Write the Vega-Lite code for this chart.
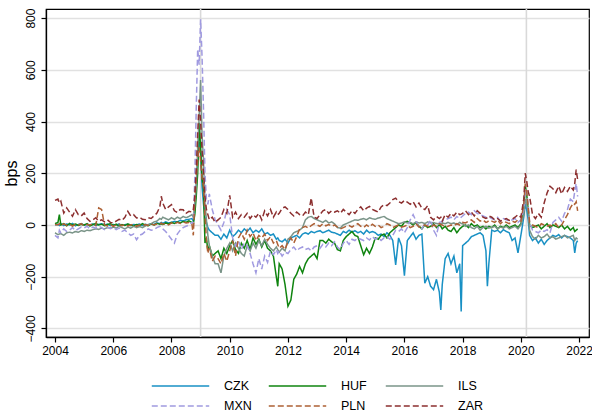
{
  "$schema": "https://vega.github.io/schema/vega-lite/v6.json",
  "width": 543,
  "height": 328,
  "autosize": "none",
  "padding": {"left": 46, "top": 9, "right": 3, "bottom": 79},
  "background": "white",
  "config": {
    "font": "Liberation Sans",
    "view": {"stroke": "black", "strokeWidth": 1.2},
    "axis": {"domainColor": "black", "domainWidth": 1.3, "tickColor": "black", "tickWidth": 1.2, "tickSize": 5, "labelColor": "black", "titleColor": "black", "labelFontSize": 12, "titleFontWeight": "normal"}
  },
  "datasets": {
    "events": [{"t": 2009.0}, {"t": 2020.19}],
    "styles": [
      {"cur": "CZK", "style": "CZK"}, {"cur": "HUF", "style": "HUF"}, {"cur": "ILS", "style": "ILS"},
      {"cur": "MXN", "style": "MXN"}, {"cur": "PLN", "style": "PLN"}, {"cur": "ZAR", "style": "ZAR"}
    ],
    "spreads": [
      {"t":2004.0,"CZK":0,"HUF":5,"ILS":-30,"MXN":-40,"PLN":2,"ZAR":95},
      {"t":2004.1,"CZK":3,"HUF":10,"ILS":-37,"MXN":-50,"PLN":0,"ZAR":100},
      {"t":2004.15,"CZK":-2,"HUF":40,"ILS":-35,"MXN":-20,"PLN":5,"ZAR":85},
      {"t":2004.2,"CZK":5,"HUF":0,"ILS":-33,"MXN":-30,"PLN":-3,"ZAR":92},
      {"t":2004.3,"CZK":-2,"HUF":5,"ILS":-40,"MXN":-15,"PLN":4,"ZAR":46},
      {"t":2004.4,"CZK":4,"HUF":-3,"ILS":-30,"MXN":-25,"PLN":-2,"ZAR":66},
      {"t":2004.5,"CZK":0,"HUF":6,"ILS":-28,"MXN":-20,"PLN":3,"ZAR":50},
      {"t":2004.6,"CZK":6,"HUF":0,"ILS":-31,"MXN":-10,"PLN":-4,"ZAR":34},
      {"t":2004.7,"CZK":-3,"HUF":4,"ILS":-25,"MXN":-22,"PLN":2,"ZAR":59},
      {"t":2004.8,"CZK":2,"HUF":-2,"ILS":-28,"MXN":-15,"PLN":0,"ZAR":40},
      {"t":2004.9,"CZK":5,"HUF":3,"ILS":-22,"MXN":-8,"PLN":5,"ZAR":35},
      {"t":2005.0,"CZK":-1,"HUF":0,"ILS":-25,"MXN":-12,"PLN":-3,"ZAR":46},
      {"t":2005.1,"CZK":3,"HUF":5,"ILS":-20,"MXN":-5,"PLN":2,"ZAR":25},
      {"t":2005.2,"CZK":0,"HUF":-4,"ILS":-22,"MXN":-15,"PLN":0,"ZAR":14},
      {"t":2005.3,"CZK":4,"HUF":2,"ILS":-18,"MXN":-8,"PLN":4,"ZAR":20},
      {"t":2005.4,"CZK":-2,"HUF":6,"ILS":-15,"MXN":-12,"PLN":-2,"ZAR":28},
      {"t":2005.5,"CZK":2,"HUF":0,"ILS":-17,"MXN":-5,"PLN":66,"ZAR":15},
      {"t":2005.6,"CZK":5,"HUF":3,"ILS":-12,"MXN":-10,"PLN":60,"ZAR":20},
      {"t":2005.7,"CZK":0,"HUF":-3,"ILS":-15,"MXN":-18,"PLN":0,"ZAR":12},
      {"t":2005.8,"CZK":3,"HUF":2,"ILS":-10,"MXN":-8,"PLN":-4,"ZAR":20},
      {"t":2005.9,"CZK":-3,"HUF":5,"ILS":-12,"MXN":-14,"PLN":2,"ZAR":10},
      {"t":2006.0,"CZK":2,"HUF":-2,"ILS":-8,"MXN":-10,"PLN":-5,"ZAR":8},
      {"t":2006.1,"CZK":0,"HUF":3,"ILS":-12,"MXN":-18,"PLN":0,"ZAR":15},
      {"t":2006.2,"CZK":4,"HUF":-5,"ILS":-5,"MXN":-12,"PLN":3,"ZAR":22},
      {"t":2006.3,"CZK":-2,"HUF":2,"ILS":-10,"MXN":-25,"PLN":-3,"ZAR":18},
      {"t":2006.4,"CZK":1,"HUF":-2,"ILS":-15,"MXN":-20,"PLN":2,"ZAR":30},
      {"t":2006.5,"CZK":3,"HUF":4,"ILS":-8,"MXN":-30,"PLN":-4,"ZAR":53},
      {"t":2006.6,"CZK":-3,"HUF":0,"ILS":-12,"MXN":-40,"PLN":0,"ZAR":35},
      {"t":2006.7,"CZK":2,"HUF":-4,"ILS":-5,"MXN":-35,"PLN":3,"ZAR":40},
      {"t":2006.8,"CZK":0,"HUF":2,"ILS":-10,"MXN":-57,"PLN":-5,"ZAR":27},
      {"t":2006.9,"CZK":4,"HUF":-3,"ILS":-6,"MXN":-40,"PLN":0,"ZAR":30},
      {"t":2007.0,"CZK":-2,"HUF":5,"ILS":-10,"MXN":-35,"PLN":-3,"ZAR":22},
      {"t":2007.1,"CZK":3,"HUF":0,"ILS":-4,"MXN":-25,"PLN":2,"ZAR":20},
      {"t":2007.2,"CZK":0,"HUF":-3,"ILS":2,"MXN":-15,"PLN":-2,"ZAR":28},
      {"t":2007.3,"CZK":5,"HUF":4,"ILS":5,"MXN":-20,"PLN":4,"ZAR":25},
      {"t":2007.4,"CZK":2,"HUF":0,"ILS":12,"MXN":-18,"PLN":0,"ZAR":35},
      {"t":2007.5,"CZK":8,"HUF":6,"ILS":15,"MXN":-10,"PLN":5,"ZAR":46},
      {"t":2007.6,"CZK":5,"HUF":3,"ILS":25,"MXN":-5,"PLN":2,"ZAR":70},
      {"t":2007.65,"CZK":10,"HUF":5,"ILS":22,"MXN":-12,"PLN":8,"ZAR":111},
      {"t":2007.7,"CZK":6,"HUF":2,"ILS":30,"MXN":-15,"PLN":3,"ZAR":85},
      {"t":2007.8,"CZK":12,"HUF":8,"ILS":25,"MXN":-25,"PLN":6,"ZAR":60},
      {"t":2007.9,"CZK":8,"HUF":4,"ILS":20,"MXN":-40,"PLN":0,"ZAR":70},
      {"t":2008.0,"CZK":10,"HUF":10,"ILS":28,"MXN":-55,"PLN":8,"ZAR":79},
      {"t":2008.1,"CZK":14,"HUF":6,"ILS":22,"MXN":-70,"PLN":4,"ZAR":55},
      {"t":2008.2,"CZK":12,"HUF":12,"ILS":30,"MXN":-35,"PLN":10,"ZAR":48},
      {"t":2008.3,"CZK":18,"HUF":8,"ILS":25,"MXN":-20,"PLN":6,"ZAR":60},
      {"t":2008.4,"CZK":15,"HUF":14,"ILS":33,"MXN":-10,"PLN":12,"ZAR":59},
      {"t":2008.5,"CZK":20,"HUF":10,"ILS":28,"MXN":-5,"PLN":8,"ZAR":45},
      {"t":2008.6,"CZK":22,"HUF":16,"ILS":33,"MXN":0,"PLN":10,"ZAR":53},
      {"t":2008.7,"CZK":25,"HUF":10,"ILS":40,"MXN":10,"PLN":5,"ZAR":50},
      {"t":2008.75,"CZK":15,"HUF":5,"ILS":30,"MXN":5,"PLN":-40,"ZAR":60},
      {"t":2008.8,"CZK":60,"HUF":40,"ILS":80,"MXN":180,"PLN":100,"ZAR":110},
      {"t":2008.85,"CZK":150,"HUF":110,"ILS":150,"MXN":450,"PLN":188,"ZAR":214},
      {"t":2008.9,"CZK":250,"HUF":200,"ILS":300,"MXN":680,"PLN":250,"ZAR":350},
      {"t":2008.95,"CZK":320,"HUF":395,"ILS":420,"MXN":620,"PLN":300,"ZAR":485},
      {"t":2009.0,"CZK":280,"HUF":300,"ILS":560,"MXN":795,"PLN":250,"ZAR":400},
      {"t":2009.05,"CZK":150,"HUF":180,"ILS":350,"MXN":650,"PLN":180,"ZAR":290},
      {"t":2009.1,"CZK":80,"HUF":140,"ILS":250,"MXN":446,"PLN":150,"ZAR":200},
      {"t":2009.15,"CZK":30,"HUF":-70,"ILS":85,"MXN":200,"PLN":33,"ZAR":110},
      {"t":2009.2,"CZK":10,"HUF":-50,"ILS":20,"MXN":100,"PLN":-60,"ZAR":60},
      {"t":2009.25,"CZK":-10,"HUF":-100,"ILS":-40,"MXN":80,"PLN":-110,"ZAR":40},
      {"t":2009.3,"CZK":-20,"HUF":-80,"ILS":-80,"MXN":120,"PLN":-90,"ZAR":20},
      {"t":2009.4,"CZK":-30,"HUF":-120,"ILS":-120,"MXN":60,"PLN":-140,"ZAR":30},
      {"t":2009.5,"CZK":-40,"HUF":-110,"ILS":-150,"MXN":20,"PLN":-120,"ZAR":10},
      {"t":2009.6,"CZK":-40,"HUF":-100,"ILS":-150,"MXN":0,"PLN":-130,"ZAR":20},
      {"t":2009.7,"CZK":-55,"HUF":-130,"ILS":-185,"MXN":-20,"PLN":-150,"ZAR":30},
      {"t":2009.8,"CZK":-35,"HUF":-90,"ILS":-120,"MXN":10,"PLN":-110,"ZAR":60},
      {"t":2009.9,"CZK":-50,"HUF":-110,"ILS":-90,"MXN":60,"PLN":-140,"ZAR":45},
      {"t":2010.0,"CZK":-20,"HUF":-80,"ILS":-70,"MXN":40,"PLN":-100,"ZAR":115},
      {"t":2010.1,"CZK":-45,"HUF":-60,"ILS":-100,"MXN":-50,"PLN":-60,"ZAR":30},
      {"t":2010.2,"CZK":-35,"HUF":-95,"ILS":-70,"MXN":-80,"PLN":-120,"ZAR":50},
      {"t":2010.3,"CZK":-20,"HUF":-110,"ILS":-90,"MXN":-60,"PLN":-50,"ZAR":25},
      {"t":2010.4,"CZK":-30,"HUF":-70,"ILS":-110,"MXN":-95,"PLN":-30,"ZAR":40},
      {"t":2010.5,"CZK":-15,"HUF":-90,"ILS":-120,"MXN":-70,"PLN":-55,"ZAR":30},
      {"t":2010.6,"CZK":-25,"HUF":-60,"ILS":-80,"MXN":-80,"PLN":-20,"ZAR":45},
      {"t":2010.7,"CZK":-12,"HUF":-95,"ILS":-100,"MXN":-110,"PLN":-45,"ZAR":25},
      {"t":2010.8,"CZK":-30,"HUF":-50,"ILS":-70,"MXN":-150,"PLN":-30,"ZAR":40},
      {"t":2010.9,"CZK":-20,"HUF":-75,"ILS":-90,"MXN":-185,"PLN":-60,"ZAR":30},
      {"t":2011.0,"CZK":-28,"HUF":-55,"ILS":-60,"MXN":-130,"PLN":-40,"ZAR":45},
      {"t":2011.1,"CZK":-15,"HUF":-85,"ILS":-80,"MXN":-170,"PLN":-50,"ZAR":20},
      {"t":2011.2,"CZK":-35,"HUF":-60,"ILS":-55,"MXN":-120,"PLN":-35,"ZAR":55},
      {"t":2011.3,"CZK":-30,"HUF":-90,"ILS":-75,"MXN":-145,"PLN":-60,"ZAR":35},
      {"t":2011.4,"CZK":-40,"HUF":-100,"ILS":-90,"MXN":-100,"PLN":-45,"ZAR":60},
      {"t":2011.5,"CZK":-35,"HUF":-120,"ILS":-100,"MXN":-115,"PLN":-70,"ZAR":30},
      {"t":2011.6,"CZK":-55,"HUF":-200,"ILS":-85,"MXN":-95,"PLN":-60,"ZAR":50},
      {"t":2011.65,"CZK":-50,"HUF":-237,"ILS":-95,"MXN":-110,"PLN":-75,"ZAR":40},
      {"t":2011.7,"CZK":-60,"HUF":-150,"ILS":-105,"MXN":-100,"PLN":-90,"ZAR":45},
      {"t":2011.8,"CZK":-65,"HUF":-170,"ILS":-90,"MXN":-120,"PLN":-80,"ZAR":65},
      {"t":2011.9,"CZK":-55,"HUF":-230,"ILS":-100,"MXN":-105,"PLN":-95,"ZAR":70},
      {"t":2012.0,"CZK":-70,"HUF":-314,"ILS":-55,"MXN":-110,"PLN":-65,"ZAR":60},
      {"t":2012.1,"CZK":-50,"HUF":-290,"ILS":-45,"MXN":-95,"PLN":-50,"ZAR":45},
      {"t":2012.2,"CZK":-45,"HUF":-210,"ILS":-30,"MXN":-85,"PLN":-70,"ZAR":35},
      {"t":2012.3,"CZK":-40,"HUF":-190,"ILS":-25,"MXN":-100,"PLN":-45,"ZAR":50},
      {"t":2012.4,"CZK":-50,"HUF":-160,"ILS":-20,"MXN":-90,"PLN":-15,"ZAR":40},
      {"t":2012.5,"CZK":-35,"HUF":-185,"ILS":-10,"MXN":-85,"PLN":-10,"ZAR":35},
      {"t":2012.6,"CZK":-30,"HUF":-150,"ILS":20,"MXN":-95,"PLN":-5,"ZAR":50},
      {"t":2012.7,"CZK":-35,"HUF":-130,"ILS":30,"MXN":-90,"PLN":-12,"ZAR":40},
      {"t":2012.8,"CZK":-25,"HUF":-120,"ILS":33,"MXN":-100,"PLN":-2,"ZAR":104},
      {"t":2012.9,"CZK":-30,"HUF":-110,"ILS":25,"MXN":-85,"PLN":5,"ZAR":30},
      {"t":2013.0,"CZK":-25,"HUF":-130,"ILS":20,"MXN":-80,"PLN":0,"ZAR":25},
      {"t":2013.1,"CZK":-22,"HUF":-60,"ILS":15,"MXN":-90,"PLN":-5,"ZAR":40},
      {"t":2013.2,"CZK":-30,"HUF":-60,"ILS":10,"MXN":-75,"PLN":5,"ZAR":55},
      {"t":2013.3,"CZK":-25,"HUF":-70,"ILS":18,"MXN":-85,"PLN":-3,"ZAR":60},
      {"t":2013.4,"CZK":-20,"HUF":-55,"ILS":8,"MXN":-70,"PLN":2,"ZAR":45},
      {"t":2013.5,"CZK":-28,"HUF":-65,"ILS":12,"MXN":-80,"PLN":-5,"ZAR":55},
      {"t":2013.6,"CZK":-30,"HUF":-70,"ILS":5,"MXN":-65,"PLN":0,"ZAR":50},
      {"t":2013.7,"CZK":-35,"HUF":-95,"ILS":-10,"MXN":-85,"PLN":-8,"ZAR":55},
      {"t":2013.8,"CZK":-40,"HUF":-100,"ILS":-12,"MXN":-95,"PLN":-15,"ZAR":45},
      {"t":2013.9,"CZK":-25,"HUF":-60,"ILS":0,"MXN":-70,"PLN":-10,"ZAR":60},
      {"t":2014.0,"CZK":-30,"HUF":-45,"ILS":5,"MXN":-60,"PLN":-5,"ZAR":50},
      {"t":2014.1,"CZK":-20,"HUF":-35,"ILS":10,"MXN":-75,"PLN":-2,"ZAR":40},
      {"t":2014.2,"CZK":-28,"HUF":-25,"ILS":15,"MXN":-55,"PLN":-8,"ZAR":55},
      {"t":2014.3,"CZK":-22,"HUF":-40,"ILS":20,"MXN":-60,"PLN":0,"ZAR":45},
      {"t":2014.4,"CZK":-30,"HUF":-45,"ILS":18,"MXN":-50,"PLN":5,"ZAR":60},
      {"t":2014.5,"CZK":-25,"HUF":-80,"ILS":22,"MXN":-55,"PLN":-5,"ZAR":70},
      {"t":2014.6,"CZK":-35,"HUF":-115,"ILS":25,"MXN":-60,"PLN":-10,"ZAR":55},
      {"t":2014.7,"CZK":-20,"HUF":-90,"ILS":20,"MXN":-50,"PLN":0,"ZAR":65},
      {"t":2014.8,"CZK":-30,"HUF":-110,"ILS":28,"MXN":-58,"PLN":-8,"ZAR":72},
      {"t":2014.9,"CZK":-25,"HUF":-85,"ILS":24,"MXN":-45,"PLN":3,"ZAR":60},
      {"t":2015.0,"CZK":-30,"HUF":-50,"ILS":22,"MXN":-55,"PLN":-5,"ZAR":55},
      {"t":2015.1,"CZK":-40,"HUF":-55,"ILS":27,"MXN":-48,"PLN":0,"ZAR":50},
      {"t":2015.2,"CZK":-35,"HUF":-40,"ILS":30,"MXN":-60,"PLN":-10,"ZAR":70},
      {"t":2015.3,"CZK":-45,"HUF":-35,"ILS":33,"MXN":-50,"PLN":-5,"ZAR":79},
      {"t":2015.4,"CZK":-30,"HUF":-50,"ILS":25,"MXN":-45,"PLN":5,"ZAR":75},
      {"t":2015.5,"CZK":-40,"HUF":-30,"ILS":20,"MXN":-55,"PLN":0,"ZAR":85},
      {"t":2015.6,"CZK":-60,"HUF":-20,"ILS":15,"MXN":-40,"PLN":-10,"ZAR":98},
      {"t":2015.7,"CZK":-154,"HUF":-10,"ILS":10,"MXN":-20,"PLN":-5,"ZAR":104},
      {"t":2015.8,"CZK":-50,"HUF":0,"ILS":5,"MXN":-25,"PLN":0,"ZAR":90},
      {"t":2015.9,"CZK":-80,"HUF":-5,"ILS":8,"MXN":-15,"PLN":-8,"ZAR":85},
      {"t":2016.0,"CZK":-196,"HUF":10,"ILS":12,"MXN":-30,"PLN":-5,"ZAR":95},
      {"t":2016.1,"CZK":-60,"HUF":14,"ILS":8,"MXN":-10,"PLN":0,"ZAR":88},
      {"t":2016.2,"CZK":-45,"HUF":8,"ILS":10,"MXN":20,"PLN":-10,"ZAR":80},
      {"t":2016.3,"CZK":-30,"HUF":0,"ILS":5,"MXN":40,"PLN":-5,"ZAR":90},
      {"t":2016.4,"CZK":-55,"HUF":10,"ILS":12,"MXN":15,"PLN":5,"ZAR":70},
      {"t":2016.5,"CZK":-40,"HUF":-5,"ILS":8,"MXN":-10,"PLN":-8,"ZAR":85},
      {"t":2016.6,"CZK":-35,"HUF":-15,"ILS":10,"MXN":-15,"PLN":-3,"ZAR":65},
      {"t":2016.7,"CZK":-225,"HUF":0,"ILS":5,"MXN":5,"PLN":0,"ZAR":60},
      {"t":2016.8,"CZK":-200,"HUF":-10,"ILS":12,"MXN":0,"PLN":-5,"ZAR":75},
      {"t":2016.9,"CZK":-237,"HUF":-5,"ILS":8,"MXN":20,"PLN":-10,"ZAR":30},
      {"t":2017.0,"CZK":-250,"HUF":5,"ILS":10,"MXN":-20,"PLN":0,"ZAR":20},
      {"t":2017.1,"CZK":-210,"HUF":-10,"ILS":6,"MXN":-40,"PLN":-5,"ZAR":33},
      {"t":2017.2,"CZK":-260,"HUF":0,"ILS":3,"MXN":10,"PLN":5,"ZAR":25},
      {"t":2017.25,"CZK":-328,"HUF":-5,"ILS":6,"MXN":12,"PLN":2,"ZAR":30},
      {"t":2017.3,"CZK":-230,"HUF":-15,"ILS":8,"MXN":15,"PLN":0,"ZAR":15},
      {"t":2017.4,"CZK":-130,"HUF":-5,"ILS":5,"MXN":20,"PLN":-8,"ZAR":40},
      {"t":2017.5,"CZK":-110,"HUF":-20,"ILS":10,"MXN":25,"PLN":-5,"ZAR":30},
      {"t":2017.6,"CZK":-150,"HUF":-25,"ILS":5,"MXN":30,"PLN":0,"ZAR":45},
      {"t":2017.7,"CZK":-120,"HUF":-10,"ILS":8,"MXN":20,"PLN":-3,"ZAR":35},
      {"t":2017.8,"CZK":-185,"HUF":-30,"ILS":2,"MXN":33,"PLN":5,"ZAR":50},
      {"t":2017.9,"CZK":-150,"HUF":-15,"ILS":10,"MXN":25,"PLN":0,"ZAR":40},
      {"t":2017.95,"CZK":-334,"HUF":-10,"ILS":6,"MXN":30,"PLN":5,"ZAR":42},
      {"t":2018.0,"CZK":-80,"HUF":-5,"ILS":5,"MXN":35,"PLN":10,"ZAR":45},
      {"t":2018.1,"CZK":-70,"HUF":0,"ILS":-5,"MXN":45,"PLN":8,"ZAR":55},
      {"t":2018.2,"CZK":-60,"HUF":-10,"ILS":0,"MXN":50,"PLN":15,"ZAR":40},
      {"t":2018.3,"CZK":-45,"HUF":5,"ILS":-10,"MXN":40,"PLN":20,"ZAR":50},
      {"t":2018.4,"CZK":-40,"HUF":-5,"ILS":-15,"MXN":55,"PLN":10,"ZAR":35},
      {"t":2018.5,"CZK":-35,"HUF":0,"ILS":-5,"MXN":45,"PLN":25,"ZAR":55},
      {"t":2018.6,"CZK":-30,"HUF":-10,"ILS":-20,"MXN":40,"PLN":15,"ZAR":45},
      {"t":2018.7,"CZK":-40,"HUF":-5,"ILS":-10,"MXN":35,"PLN":20,"ZAR":30},
      {"t":2018.8,"CZK":-100,"HUF":-15,"ILS":-5,"MXN":30,"PLN":10,"ZAR":25},
      {"t":2018.85,"CZK":-237,"HUF":-10,"ILS":-8,"MXN":28,"PLN":12,"ZAR":28},
      {"t":2018.9,"CZK":-150,"HUF":-5,"ILS":-12,"MXN":32,"PLN":18,"ZAR":35},
      {"t":2019.0,"CZK":-20,"HUF":-10,"ILS":-10,"MXN":25,"PLN":15,"ZAR":30},
      {"t":2019.1,"CZK":-25,"HUF":0,"ILS":-5,"MXN":20,"PLN":10,"ZAR":20},
      {"t":2019.2,"CZK":-20,"HUF":-15,"ILS":-15,"MXN":30,"PLN":20,"ZAR":25},
      {"t":2019.3,"CZK":-30,"HUF":-5,"ILS":-8,"MXN":15,"PLN":5,"ZAR":15},
      {"t":2019.4,"CZK":-18,"HUF":-10,"ILS":-12,"MXN":25,"PLN":15,"ZAR":20},
      {"t":2019.5,"CZK":-25,"HUF":0,"ILS":-5,"MXN":20,"PLN":10,"ZAR":25},
      {"t":2019.6,"CZK":-30,"HUF":-10,"ILS":-15,"MXN":15,"PLN":5,"ZAR":18},
      {"t":2019.7,"CZK":-60,"HUF":-5,"ILS":-10,"MXN":20,"PLN":15,"ZAR":22},
      {"t":2019.8,"CZK":-50,"HUF":0,"ILS":-5,"MXN":25,"PLN":10,"ZAR":30},
      {"t":2019.9,"CZK":-108,"HUF":-10,"ILS":-15,"MXN":10,"PLN":20,"ZAR":40},
      {"t":2020.0,"CZK":-40,"HUF":5,"ILS":0,"MXN":20,"PLN":15,"ZAR":30},
      {"t":2020.1,"CZK":30,"HUF":50,"ILS":40,"MXN":60,"PLN":80,"ZAR":100},
      {"t":2020.15,"CZK":80,"HUF":150,"ILS":100,"MXN":140,"PLN":160,"ZAR":200},
      {"t":2020.2,"CZK":60,"HUF":120,"ILS":80,"MXN":120,"PLN":130,"ZAR":170},
      {"t":2020.25,"CZK":20,"HUF":60,"ILS":50,"MXN":80,"PLN":70,"ZAR":130},
      {"t":2020.3,"CZK":-40,"HUF":0,"ILS":-20,"MXN":10,"PLN":10,"ZAR":110},
      {"t":2020.4,"CZK":-60,"HUF":-10,"ILS":-45,"MXN":-20,"PLN":0,"ZAR":40},
      {"t":2020.5,"CZK":-50,"HUF":-5,"ILS":-55,"MXN":-25,"PLN":-5,"ZAR":25},
      {"t":2020.6,"CZK":-70,"HUF":0,"ILS":-40,"MXN":-30,"PLN":-10,"ZAR":45},
      {"t":2020.7,"CZK":-55,"HUF":-15,"ILS":-50,"MXN":-20,"PLN":5,"ZAR":30},
      {"t":2020.8,"CZK":-75,"HUF":-5,"ILS":-45,"MXN":-25,"PLN":0,"ZAR":85},
      {"t":2020.9,"CZK":-60,"HUF":5,"ILS":-35,"MXN":-18,"PLN":-5,"ZAR":124},
      {"t":2021.0,"CZK":-50,"HUF":-10,"ILS":-50,"MXN":-30,"PLN":0,"ZAR":150},
      {"t":2021.1,"CZK":-40,"HUF":0,"ILS":-45,"MXN":10,"PLN":-5,"ZAR":140},
      {"t":2021.2,"CZK":-45,"HUF":-5,"ILS":-55,"MXN":20,"PLN":5,"ZAR":125},
      {"t":2021.3,"CZK":-37,"HUF":-10,"ILS":-50,"MXN":30,"PLN":-10,"ZAR":150},
      {"t":2021.4,"CZK":-50,"HUF":0,"ILS":-45,"MXN":15,"PLN":0,"ZAR":120},
      {"t":2021.5,"CZK":-40,"HUF":-15,"ILS":-40,"MXN":45,"PLN":20,"ZAR":145},
      {"t":2021.6,"CZK":-45,"HUF":-5,"ILS":-50,"MXN":60,"PLN":40,"ZAR":130},
      {"t":2021.7,"CZK":-50,"HUF":-20,"ILS":-45,"MXN":100,"PLN":66,"ZAR":150},
      {"t":2021.8,"CZK":-60,"HUF":-10,"ILS":-40,"MXN":90,"PLN":85,"ZAR":135},
      {"t":2021.85,"CZK":-108,"HUF":-25,"ILS":-60,"MXN":130,"PLN":80,"ZAR":160},
      {"t":2021.9,"CZK":-70,"HUF":-20,"ILS":-50,"MXN":160,"PLN":90,"ZAR":214},
      {"t":2021.95,"CZK":-60,"HUF":-15,"ILS":-55,"MXN":110,"PLN":55,"ZAR":175}
    ]
  },
  "layer": [
    {
      "data": {"name": "events"},
      "mark": {"type": "rule", "color": "#d9d9d9", "strokeWidth": 1.6},
      "encoding": {"x": {"field": "t", "type": "quantitative"}}
    },
    {
      "data": {"name": "spreads"},
      "transform": [
        {"fold": ["CZK", "HUF", "ILS", "MXN", "PLN", "ZAR"], "as": ["cur", "v"]},
        {"lookup": "cur", "from": {"data": {"name": "styles"}, "key": "cur", "fields": ["style"]}}
      ],
      "mark": {"type": "line", "strokeWidth": 1.5, "clip": true},
      "encoding": {
        "x": {
          "field": "t", "type": "quantitative",
          "scale": {"domain": [2003.69, 2022.34], "nice": false, "zero": false},
          "axis": {"values": [2004, 2006, 2008, 2010, 2012, 2014, 2016, 2018, 2020, 2022], "format": "d", "title": null, "grid": false, "labelPadding": 3, "labelFlush": false}
        },
        "y": {
          "field": "v", "type": "quantitative",
          "scale": {"domain": [-433, 835], "nice": false, "zero": false},
          "axis": {"values": [-400, -200, 0, 200, 400, 600, 800], "title": "bps", "titleFontSize": 16, "titlePadding": 5, "labelAngle": -90, "labelAlign": "center", "labelBaseline": "bottom", "labelPadding": 4, "grid": true, "gridColor": "#e1e1e1", "gridWidth": 1.5}
        },
        "color": {
          "field": "cur", "type": "nominal",
          "scale": {"domain": ["CZK", "HUF", "ILS", "MXN", "PLN", "ZAR"], "range": ["#1890c4", "#0f840f", "#7a9488", "#a09ae0", "#ad6035", "#8c2f2f"]},
          "legend": {"values": ["CZK", "HUF", "ILS"], "orient": "none", "legendX": 105, "legendY": 347.5, "direction": "horizontal", "columns": 3, "title": null, "symbolType": "stroke", "symbolSize": 3300, "symbolStrokeWidth": 1.5, "labelFontSize": 12.5, "labelOffset": 14, "columnPadding": 15, "gridAlign": "all"}
        },
        "strokeDash": {
          "field": "style", "type": "nominal",
          "scale": {"domain": ["MXN", "PLN", "ZAR", "CZK", "HUF", "ILS"], "range": [[6, 3], [6, 3], [6, 3], [1, 0], [1, 0], [1, 0]]},
          "legend": {"values": ["MXN", "PLN", "ZAR"], "orient": "none", "legendX": 105, "legendY": 367.5, "direction": "horizontal", "columns": 3, "title": null, "symbolType": "stroke", "symbolSize": 3300, "symbolStrokeWidth": 1.5, "symbolDash": [8, 5], "labelFontSize": 12.5, "labelOffset": 14, "columnPadding": 13, "gridAlign": "all",
            "encode": {"symbols": {"update": {"stroke": {"scale": "color", "field": "value"}}}}}
        }
      }
    }
  ]
}
